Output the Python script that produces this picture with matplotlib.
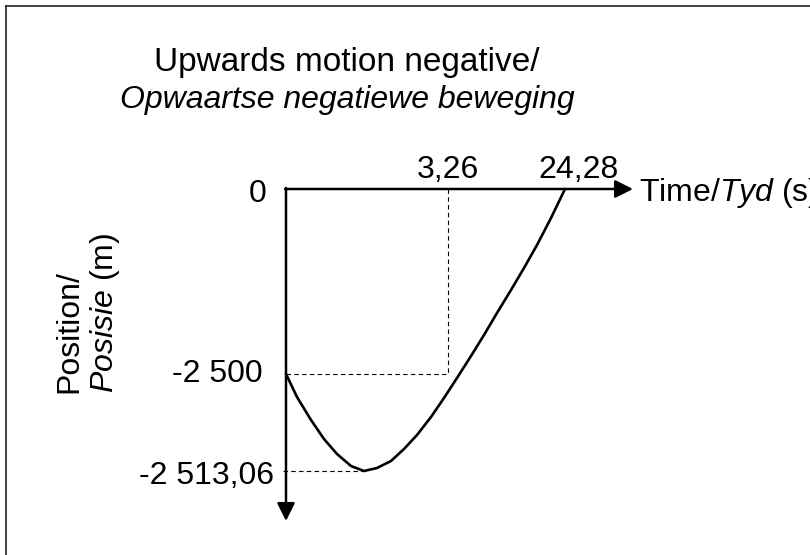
import matplotlib
matplotlib.use("Agg")
import matplotlib.pyplot as plt
from matplotlib.lines import Line2D

plt.rcParams['font.family'] = ['Liberation Sans', 'DejaVu Sans']
plt.rcParams['mathtext.fontset'] = 'custom'
plt.rcParams['mathtext.rm'] = 'Liberation Sans'
plt.rcParams['mathtext.it'] = 'Liberation Sans:italic'

# The sketch is not drawn to scale, so the curve is kept in sketch units
# (origin at the corner of the two axes).
t_sketch = [0, 11, 25, 38, 51, 65, 78, 91, 105, 118, 131, 145, 158, 171,
            185, 198, 211, 225, 238, 251, 265, 279]
s_sketch = [-185, -208, -231, -250, -265, -277, -282, -279, -272, -260,
            -246, -228, -209, -189, -167, -146, -124, -101, -79, -56, -29, 0]

# marked values on the axes and where they sit on the sketch
time_labels = ["3,26", "24,28"]
time_marks = [162, 279]
pos_labels = ["0", "-2 500", "-2 513,06"]
pos_marks = [0, -185, -282]

t_end = 347     # tip of the time arrow
s_end = -332    # tip of the position arrow
fs = 23

fig = plt.figure(figsize=(8.1, 5.55), dpi=100)
ax = fig.add_axes([0, 0, 1, 1])
ax.set_xlim(-286, 524)
ax.set_ylim(-366, 189)
ax.axis('off')

# frame round the picture (only left and top show)
fig.add_artist(Line2D([5.5 / 810, 5.5 / 810], [0, 1 - 5.5 / 555], color='#222222', lw=1.2))
fig.add_artist(Line2D([5.5 / 810, 1], [1 - 5.5 / 555, 1 - 5.5 / 555], color='#222222', lw=1.2))

# axes as arrows
arrow = dict(arrowstyle='-|>', lw=1.8, color='black', mutation_scale=27, shrinkA=0, shrinkB=0)
ax.annotate('', xy=(t_end, 0), xytext=(-1, 0), arrowprops=arrow)
ax.annotate('', xy=(0, s_end), xytext=(0, 1), arrowprops=arrow)

# the position-time curve
ax.plot(t_sketch, s_sketch, color='black', lw=1.9, solid_capstyle='round',
        solid_joinstyle='round')

# dashed guide lines
dash = dict(color='black', lw=0.8, dashes=(4, 3))
ax.plot([time_marks[0], time_marks[0]], [0, pos_marks[1]], **dash)
ax.plot([0, time_marks[0]], [pos_marks[1], pos_marks[1]], **dash)
ax.plot([-3, t_sketch[s_sketch.index(min(s_sketch))]], [pos_marks[2], pos_marks[2]], **dash)

# labels on the axes
t_shift = [0, 13]
for lab, m, dx in zip(time_labels, time_marks, t_shift):
    ax.text(m + dx, 11, lab, ha='center', va='baseline', fontsize=fs)

s_pad = [-19, -23, -12]
s_shift = [-2, 4, -1]
for lab, m, dx, dy in zip(pos_labels, pos_marks, s_pad, s_shift):
    ax.text(dx, m + dy, lab, ha='right', va='center_baseline', fontsize=fs)

ax.text(353, 0, r'Time/$\mathit{Tyd}$ (s)', ha='left', va='center_baseline', fontsize=fs)
ax.text(-198, -204, 'Position/\n' + r'$\mathit{Posisie}$ (m)', ha='center', va='bottom',
        rotation=90, multialignment='left', fontsize=fs, linespacing=1.15)

# title
ax.text(61, 127, 'Upwards motion negative/', ha='center', va='center', fontsize=24)
ax.text(61, 89, 'Opwaartse negatiewe beweging', ha='center', va='center',
        fontsize=fs, style='italic')

fig.savefig('out.png', dpi=100)
